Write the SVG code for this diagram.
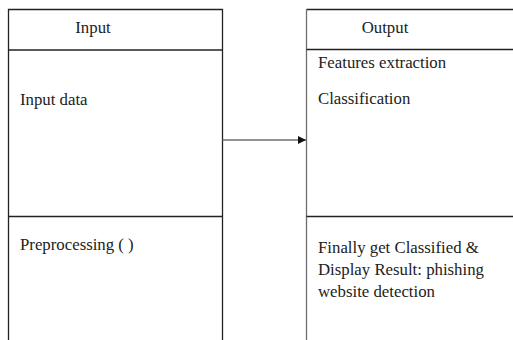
<svg xmlns="http://www.w3.org/2000/svg" width="513" height="340" viewBox="0 0 513 340">
<defs>
<style>
.t{font-family:"Liberation Serif","Times New Roman",serif;font-size:16.8px;fill:#222}
.ln{stroke:#222;stroke-width:1.3;fill:none}
.lg{stroke:#6e6e6e;stroke-width:1.3;fill:none}
</style>
<marker id="ah" viewBox="0 0 10 10" refX="10" refY="5" markerWidth="8" markerHeight="8" markerUnits="userSpaceOnUse" orient="auto">
<path d="M0,0 L10,5 L0,10 z" fill="#111"/>
</marker>
</defs>
<rect width="513" height="340" fill="#fff"/>
<g id="input">
<path class="ln" d="M8.5,340 V9.5 H222.5 V340"/>
<line class="ln" x1="8.5" y1="50" x2="222.5" y2="50"/>
<line class="ln" x1="8.5" y1="216.5" x2="222.5" y2="216.5"/>
<text class="t" x="93" y="33" text-anchor="middle">Input</text>
<text class="t" x="20" y="105">Input data</text>
<text class="t" x="20" y="250">Preprocessing ( )</text>
</g>
<g id="output">
<path class="ln" d="M306.5,9.5 H513"/>
<line class="lg" x1="306.5" y1="9.5" x2="306.5" y2="340"/>
<line class="ln" x1="306.5" y1="49.5" x2="513" y2="49.5"/>
<line class="ln" x1="306.5" y1="216.5" x2="513" y2="216.5"/>
<text class="t" x="385" y="33" text-anchor="middle">Output</text>
<text class="t" x="318" y="68">Features extraction</text>
<text class="t" x="318" y="104">Classification</text>
<text class="t" x="318" y="253">Finally get Classified &amp;</text>
<text class="t" x="318" y="275">Display Result: phishing</text>
<text class="t" x="318" y="297">website detection</text>
</g>
<g id="connectors">
<line class="lg" x1="222.5" y1="140" x2="306" y2="140" marker-end="url(#ah)"/>
</g>
</svg>
